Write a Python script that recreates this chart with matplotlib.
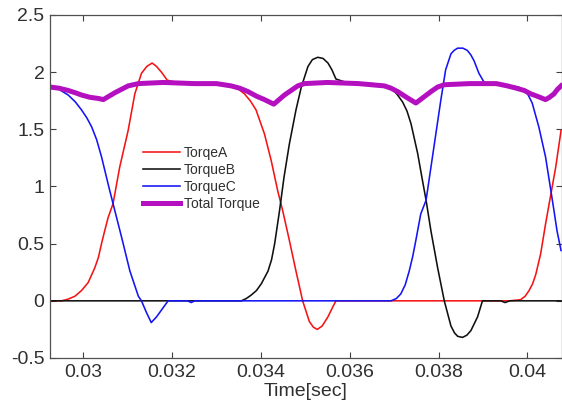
import matplotlib
matplotlib.use("Agg")
import matplotlib.pyplot as plt

# ---- data ----
tA = [0.02925, 0.02951, 0.02966, 0.02981, 0.02996, 0.03011, 0.03026, 0.03034, 0.03041,
      0.03048, 0.03056, 0.03067, 0.03082, 0.03101, 0.03116, 0.03131, 0.03143, 0.03155,
      0.03165, 0.03176, 0.03189, 0.0322, 0.0327, 0.0331, 0.03335, 0.0335, 0.03363,
      0.03376, 0.03389, 0.03408, 0.03423, 0.03438, 0.03449, 0.03464, 0.03479, 0.03494,
      0.03509, 0.03518, 0.03527, 0.03538, 0.03551, 0.03561, 0.03569, 0.0375, 0.0393,
      0.0396, 0.03985, 0.03995, 0.04004, 0.04012, 0.04019, 0.0403, 0.04041, 0.04052,
      0.04064, 0.04076]
torqueA = [0.0, 0.0, 0.015, 0.04, 0.09, 0.16, 0.29, 0.38, 0.50,
           0.61, 0.73, 0.85, 1.17, 1.49, 1.81, 1.99, 2.05, 2.08,
           2.05, 2.00, 1.93, 1.90, 1.90, 1.89, 1.87, 1.85, 1.81,
           1.75, 1.67, 1.46, 1.23, 0.96, 0.79, 0.53, 0.26, 0.0,
           -0.18, -0.23, -0.25, -0.22, -0.14, -0.06, 0.0, 0.0, 0.0,
           0.0, 0.01, 0.04, 0.09, 0.15, 0.23, 0.41, 0.67, 0.91,
           1.17, 1.49]

tB = [0.02925, 0.0320, 0.0330, 0.03356, 0.03367, 0.03378, 0.0339, 0.03401, 0.03416,
      0.03424, 0.03431, 0.03442, 0.03452, 0.03464, 0.03479, 0.03491, 0.03506, 0.03516,
      0.03528, 0.0354, 0.03551, 0.0356, 0.03569, 0.0360, 0.0365, 0.0368, 0.03693,
      0.03706, 0.03719, 0.03729, 0.03738, 0.03753, 0.03764, 0.03772, 0.03783, 0.03798,
      0.03813, 0.03828, 0.03836, 0.03843, 0.03854, 0.03864, 0.03873, 0.03888, 0.03899,
      0.0394, 0.0395, 0.0396, 0.04076]
torqueB = [0.0, 0.0, 0.0, 0.0, 0.02, 0.05, 0.09, 0.15, 0.26,
           0.36, 0.50, 0.79, 1.08, 1.37, 1.67, 1.87, 2.05, 2.11,
           2.13, 2.12, 2.08, 2.02, 1.94, 1.90, 1.90, 1.88, 1.86,
           1.81, 1.74, 1.66, 1.55, 1.29, 1.05, 0.88, 0.61, 0.29,
           0.0, -0.22, -0.28, -0.31, -0.32, -0.30, -0.26, -0.14, 0.0,
           0.0, -0.015, 0.0, 0.0]

tC = [0.02925, 0.02945, 0.02966, 0.02982, 0.02996, 0.03008, 0.03019, 0.0303, 0.03041,
      0.03056, 0.03067, 0.03086, 0.03105, 0.03124, 0.03131, 0.03142, 0.03153, 0.03165,
      0.03178, 0.03191, 0.03235, 0.03243, 0.03251, 0.0340, 0.03693, 0.03705, 0.03715,
      0.03725, 0.03734, 0.03742, 0.03749, 0.0376, 0.03772, 0.03783, 0.03794, 0.03805,
      0.03816, 0.03828, 0.03835, 0.03843, 0.03855, 0.03865, 0.03873, 0.0388, 0.03891,
      0.03903, 0.0395, 0.0398, 0.03993, 0.04002, 0.04011, 0.04026, 0.04041, 0.04052,
      0.0406, 0.04067, 0.04076]
torqueC = [1.87, 1.85, 1.80, 1.74, 1.67, 1.60, 1.52, 1.41, 1.26,
           1.02, 0.85, 0.56, 0.26, 0.04, 0.0, -0.10, -0.19, -0.14,
           -0.07, 0.0, 0.0, -0.015, 0.0, 0.0, 0.0, 0.02, 0.06,
           0.14, 0.26, 0.39, 0.53, 0.76, 0.88, 1.17, 1.46, 1.75,
           2.02, 2.16, 2.19, 2.21, 2.21, 2.19, 2.15, 2.10, 1.99,
           1.91, 1.89, 1.87, 1.84, 1.80, 1.73, 1.52, 1.26, 0.99,
           0.79, 0.61, 0.44]

tT = [0.02925, 0.02945, 0.02966, 0.02982, 0.02996, 0.03015, 0.03034, 0.03045, 0.03058,
      0.03071, 0.03086, 0.03101, 0.03124, 0.0318, 0.0325, 0.0330, 0.03333, 0.03352,
      0.03371, 0.0339, 0.03408, 0.03429, 0.03441, 0.03453, 0.03468, 0.03483, 0.03498,
      0.0355, 0.0362, 0.03678, 0.03693, 0.03708, 0.03728, 0.03749, 0.03766, 0.03783,
      0.03798, 0.03813, 0.0387, 0.0393, 0.03955, 0.03975, 0.03993, 0.04008, 0.04022,
      0.04041, 0.0405, 0.0406, 0.04068, 0.04076]
totalT = [1.87, 1.86, 1.84, 1.82, 1.80, 1.78, 1.77, 1.76, 1.79,
          1.82, 1.85, 1.88, 1.90, 1.91, 1.90, 1.90, 1.88, 1.86,
          1.83, 1.79, 1.76, 1.72, 1.76, 1.80, 1.84, 1.88, 1.90,
          1.91, 1.90, 1.88, 1.86, 1.83, 1.78, 1.73, 1.78, 1.83,
          1.87, 1.89, 1.90, 1.90, 1.88, 1.86, 1.84, 1.81, 1.79,
          1.76, 1.78, 1.81, 1.85, 1.88]

xticks = [0.030, 0.032, 0.034, 0.036, 0.038, 0.040]
xtick_labels = ["0.03", "0.032", "0.034", "0.036", "0.038", "0.04"]
yticks = [-0.5, 0, 0.5, 1, 1.5, 2, 2.5]
ytick_labels = ["-0.5", "0", "0.5", "1", "1.5", "2", "2.5"]
labels = ["TorqeA", "TorqueB", "TorqueC", "Total Torque"]

plt.rcParams["font.family"] = ["Liberation Sans", "DejaVu Sans"]

fig = plt.figure(figsize=(5.62, 4.03), dpi=100)
ax = fig.add_axes([50 / 562, 1 - 358 / 403, 511.5 / 562, 343 / 403])

ax.plot(tA, torqueA, color="#f41414", lw=1.15, label=labels[0])
ax.plot(tB, torqueB, color="#101010", lw=1.15, label=labels[1])
ax.plot(tC, torqueC, color="#1414f4", lw=1.15, label=labels[2])
ax.plot(tT, totalT, color="#b410c0", lw=3.6, label=labels[3])

ax.set_xlim(0.02925, 0.04077)
ax.set_ylim(-0.5, 2.5)
ax.set_xticks(xticks)
ax.set_xticklabels(xtick_labels)
ax.set_yticks(yticks)
ax.set_yticklabels(ytick_labels)
ax.tick_params(direction="in", top=True, right=True, length=4, width=0.8,
               labelsize=14, colors="#404040", labelcolor="#303030", pad=4)
for s in ax.spines.values():
    s.set_color("#505050")
    s.set_linewidth(0.9)

ax.set_xlabel("Time[sec]", fontsize=14, color="#303030", labelpad=2)

leg = ax.legend(loc="upper left", bbox_to_anchor=(143 / 562, 1 - 146 / 403),
                bbox_transform=fig.transFigure, frameon=False, fontsize=10,
                handlelength=2.65, handletextpad=0.3, labelspacing=0.22,
                borderpad=0, borderaxespad=0)
for t in leg.get_texts():
    t.set_color("#303030")

fig.savefig("out.png", dpi=100)
